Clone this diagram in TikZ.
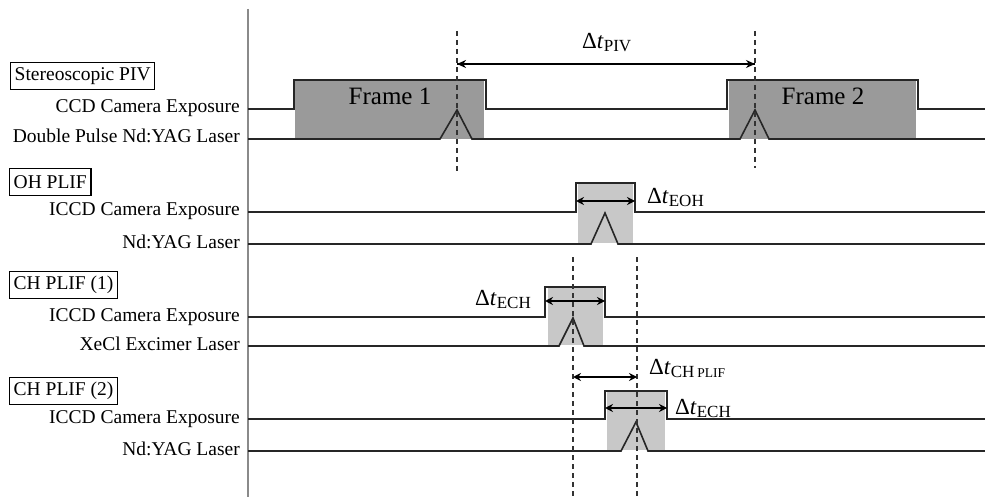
\documentclass[tikz,border=0pt]{standalone}
\usepackage{fontspec}
\setmainfont{Liberation Serif}
\usetikzlibrary{arrows.meta}
\newcommand{\dtl}[1]{Δ\textit{t}\raisebox{-3pt}{\fontsize{17}{17}\selectfont #1}}
\definecolor{framegray}{HTML}{9A9A9A}
\definecolor{pulsegray}{HTML}{C8C8C8}
\definecolor{axisgray}{HTML}{8A8A8A}
\tikzset{
  sig/.style={line width=1.6pt, draw=black!85, line join=miter},
  lab/.style={anchor=base east, font=\fontsize{19.5}{22}\selectfont, inner sep=0pt},
  grp/.style={draw, line width=1.4pt, anchor=west, font=\fontsize{19.5}{22}\selectfont,
              minimum height=27pt, inner xsep=4pt, inner ysep=0pt},
  darkfill/.style={fill=framegray},
  lightfill/.style={fill=pulsegray},
  marker/.style={line width=1.4pt, draw=black!80, dash pattern=on 5pt off 4pt},
  dt/.style={font=\fontsize{23}{25}\selectfont, anchor=base west, inner sep=0pt},
  framelab/.style={font=\fontsize{25}{27}\selectfont, anchor=base, inner sep=0pt},
  dim/.style={line width=1.6pt, {Stealth[length=8pt,width=8pt]}-{Stealth[length=8pt,width=8pt]}},
  onedim/.style={line width=1.6pt, -{Stealth[length=9pt,width=8pt]}},
}
\begin{document}
\begin{tikzpicture}[x=1pt,y=-1pt]
\useasboundingbox (0,0) rectangle (985,497);
% axis
\draw[axisgray, line width=1.3pt] (248,9) -- (248,497);

% ---------- fills ----------
\fill[darkfill] (295,81) rectangle (484,139);
\fill[darkfill] (729,81) rectangle (916,139);
\fill[lightfill] (578,184) rectangle (633,243);
\fill[lightfill] (548,288) rectangle (603,345);
\fill[lightfill] (607,392) rectangle (665,450);

% ---------- labels ----------
\node[grp] (gpiv) at (10,76) {Stereoscopic PIV};
\node[lab] (lccd) at (240,113) {CCD Camera Exposure};
\node[lab] (ldp) at (240,143) {Double Pulse Nd:YAG Laser};

\node[grp] (goh) at (9,182) {OH PLIF};
\node[lab] (licc1) at (240,216) {ICCD Camera Exposure};
\node[lab] (lnd1) at (240,248) {Nd:YAG Laser};

\node[grp] (gch1) at (9,285) {CH PLIF (1)};
\node[lab] (licc2) at (240,321) {ICCD Camera Exposure};
\node[lab] (lxe) at (240,350) {XeCl Excimer Laser};

\node[grp] (gch2) at (9,391) {CH PLIF (2)};
\node[lab] (licc3) at (240,423) {ICCD Camera Exposure};
\node[lab] (lnd2) at (240,455) {Nd:YAG Laser};

% ---------- signals ----------
% PIV
\draw[sig] (248,109) -- (294,109) -- (294,80) -- (486,80) -- (486,109) -- (727,109)
  -- (727,80) -- (918,80) -- (918,109) -- (985,109);
\draw[sig] (248,139) -- (440,139) -- (457,110) -- (472,139) -- (740,139)
  -- (755,110) -- (769,139) -- (985,139);
\node[framelab] (f1) at (390,105) {Frame 1};
\node[framelab] (f2) at (823,105) {Frame 2};

% OH PLIF
\draw[sig] (248,212) -- (576,212) -- (576,183) -- (635,183) -- (635,212) -- (985,212);
\draw[sig] (248,244) -- (591,244) -- (605,213) -- (618,244) -- (985,244);

% CH PLIF 1
\draw[sig] (248,317) -- (545,317) -- (545,287) -- (605,287) -- (605,317) -- (985,317);
\draw[sig] (248,346) -- (559,346) -- (573,318) -- (584,346) -- (985,346);

% CH PLIF 2
\draw[sig] (248,419) -- (605,419) -- (605,391) -- (667,391) -- (667,419) -- (985,419);
\draw[sig] (248,451) -- (621,451) -- (636,422) -- (648,451) -- (985,451);

% ---------- dashed markers ----------
\coordinate (m1t) at (457,31);  \coordinate (m1b) at (457,172);
\coordinate (m2t) at (755,31);  \coordinate (m2b) at (755,168);
\coordinate (m3t) at (573,257); \coordinate (m3b) at (573,497);
\coordinate (m4t) at (637,257); \coordinate (m4b) at (637,497);
\draw[marker] (m1t) -- (m1b);
\draw[marker] (m2t) -- (m2b);
\draw[marker] (m3t) -- (m3b);
\draw[marker] (m4t) -- (m4b);

% ---------- dimension arrows ----------
\coordinate (piva) at (457,64); \coordinate (pivb) at (755,64);
\draw[onedim] (piva) -- (pivb);
\draw[onedim] (pivb) -- (piva);
\node[dt] (tpiv) at (582,49) {\dtl{PIV}};

\coordinate (eoha) at (576,201); \coordinate (eohb) at (635,201);
\draw[dim] (eoha) -- (eohb);
\node[dt] (teoh) at (647,204) {\dtl{EOH}};

\coordinate (ech1a) at (545,301); \coordinate (ech1b) at (605,301);
\draw[dim] (ech1a) -- (ech1b);
\node[dt] (tech1) at (475,305) {\dtl{ECH}};

\coordinate (cpa) at (573,377); \coordinate (cpb) at (637,377);
\draw[dim] (cpa) -- (cpb);
\node[dt] (tcp) at (649,374) {\dtl{CH\,{\fontsize{13.5}{14}\selectfont PLIF}}};

\coordinate (ech2a) at (605,408); \coordinate (ech2b) at (667,408);
\draw[dim] (ech2a) -- (ech2b);
\node[dt] (tech2) at (675,414) {\dtl{ECH}};
\end{tikzpicture}
\end{document}
